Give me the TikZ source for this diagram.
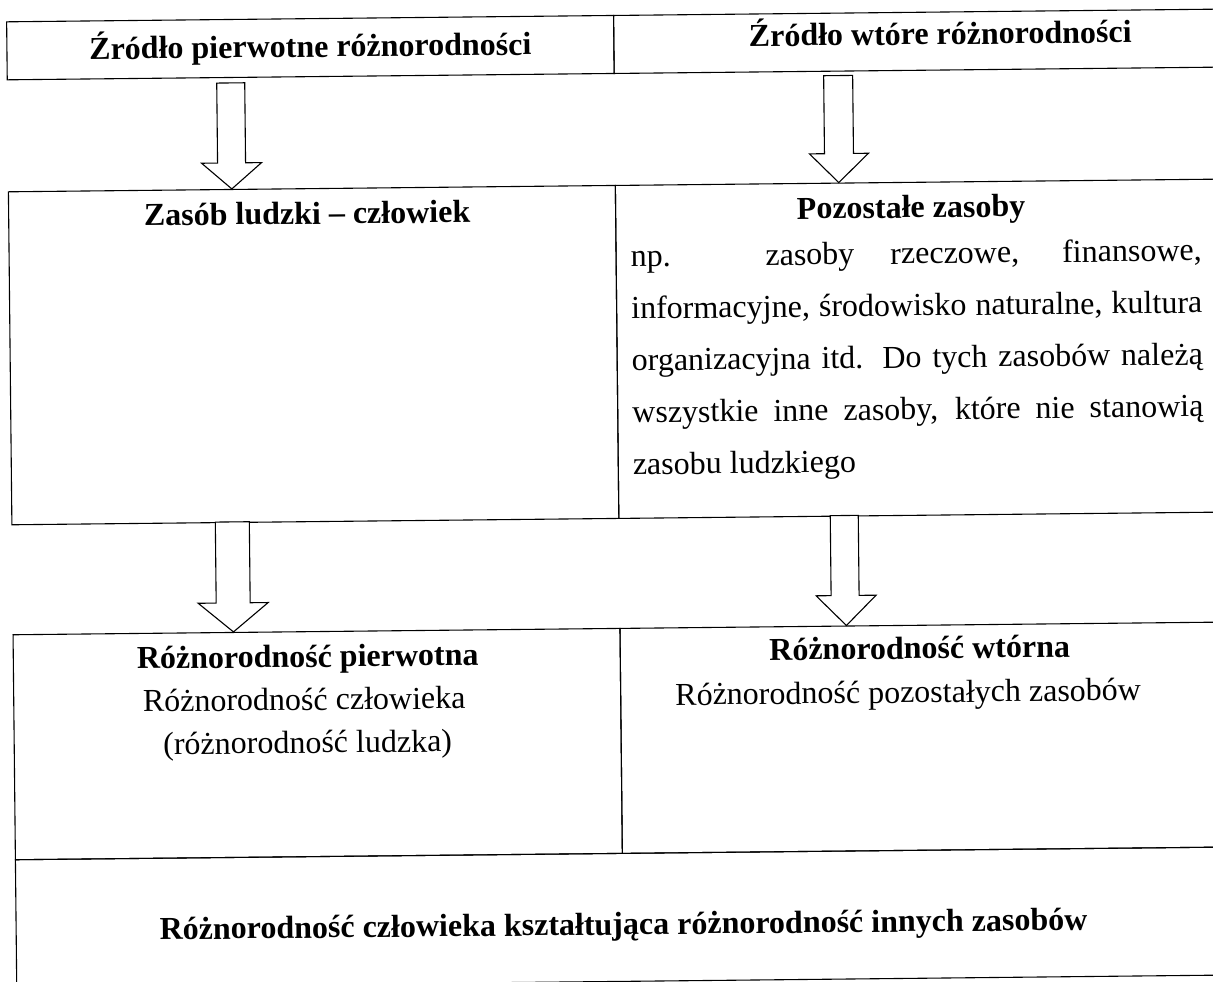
\documentclass[tikz,border=0pt]{standalone}
\usepackage{fontspec}
\setmainfont{Liberation Serif}
\begin{document}
\begin{tikzpicture}[x=1pt,y=-1pt,
  cell/.style={draw=black, line width=1.1pt, inner sep=0pt, anchor=north west, transform shape},
  ttl/.style={font=\fontsize{32}{38}\selectfont\bfseries, anchor=base, inner sep=0pt, transform shape},
  txt/.style={font=\fontsize{32}{38}\selectfont, anchor=base, inner sep=0pt, transform shape},
  bodyline/.style={font=\fontsize{32}{38}\selectfont, anchor=base west, inner sep=0pt, transform shape},
  blockarrow/.style={draw=black, fill=white, line width=1.1pt, line join=miter}]
\useasboundingbox (0,0) rectangle (1213,982);
\fill[white] (0,0) rectangle (1213,982);
\clip (0,0) rectangle (1213,982);
\begin{scope}[rotate around={0.6:(606,491)}]
  % table cells
  \node[cell, minimum width=607pt, minimum height=58pt] (src1) at (11,15) {};
  \node[cell, minimum width=622pt, minimum height=58pt] (src2) at (618,15) {};
  \node[cell, minimum width=607pt, minimum height=333pt] (zl) at (11,185) {};
  \node[cell, minimum width=622pt, minimum height=333pt] (poz) at (618,185) {};
  \node[cell, minimum width=607pt, minimum height=225pt] (rp) at (11,628) {};
  \node[cell, minimum width=622pt, minimum height=225pt] (rw) at (618,628) {};
  \node[cell, minimum width=1229pt, minimum height=128pt] (rc) at (11,853) {};
  % texts
  \node[ttl] (t1) at (315,54) {Źródło pierwotne różnorodności};
  \node[ttl] (t2) at (945,48) {Źródło wtóre różnorodności};
  \node[ttl] (t3) at (310,221) {Zasób ludzki – człowiek};
  \node[ttl] (t4) at (914,221) {Pozostałe zasoby};
  \node[bodyline] (b1) at (633,267) {\makebox[571pt][s]{np. zasoby rzeczowe, finansowe,}};
  \node[bodyline] (b2) at (633,319) {\makebox[571pt][s]{informacyjne, środowisko naturalne, kultura}};
  \node[bodyline] (b3) at (633,371) {\makebox[571pt][s]{organizacyjna itd. Do tych zasobów należą}};
  \node[bodyline] (b4) at (633,423) {\makebox[571pt][s]{wszystkie inne zasoby, które nie stanowią}};
  \node[bodyline] (b5) at (633,475) {zasobu ludzkiego};
  \node[ttl] (t5) at (306,664) {Różnorodność pierwotna};
  \node[txt] (t6) at (302,707) {Różnorodność człowieka};
  \node[txt] (t7) at (305,750) {(różnorodność ludzka)};
  \node[ttl] (t8) at (918,662) {Różnorodność wtórna};
  \node[txt] (t9) at (906,706) {Różnorodność pozostałych zasobów};
  \node[ttl] (t10) at (619,935) {Różnorodność człowieka kształtująca różnorodność innych zasobów};
  % block arrows
  \draw[blockarrow] (221,79) -- (249,79) -- (249,159) -- (265,159) -- (235,185) -- (205,159) -- (221,159) -- cycle;
  \draw[blockarrow] (828,78) -- (857,78) -- (857,156) -- (872,156) -- (842,185) -- (813,156) -- (828,156) -- cycle;
  \draw[blockarrow] (215,518) -- (249,518) -- (249,599) -- (267,599) -- (232,628) -- (197,599) -- (215,599) -- cycle;
  \draw[blockarrow] (830,518) -- (858,518) -- (858,598) -- (875,598) -- (845,628) -- (815,598) -- (830,598) -- cycle;
\end{scope}
\end{tikzpicture}
\end{document}
